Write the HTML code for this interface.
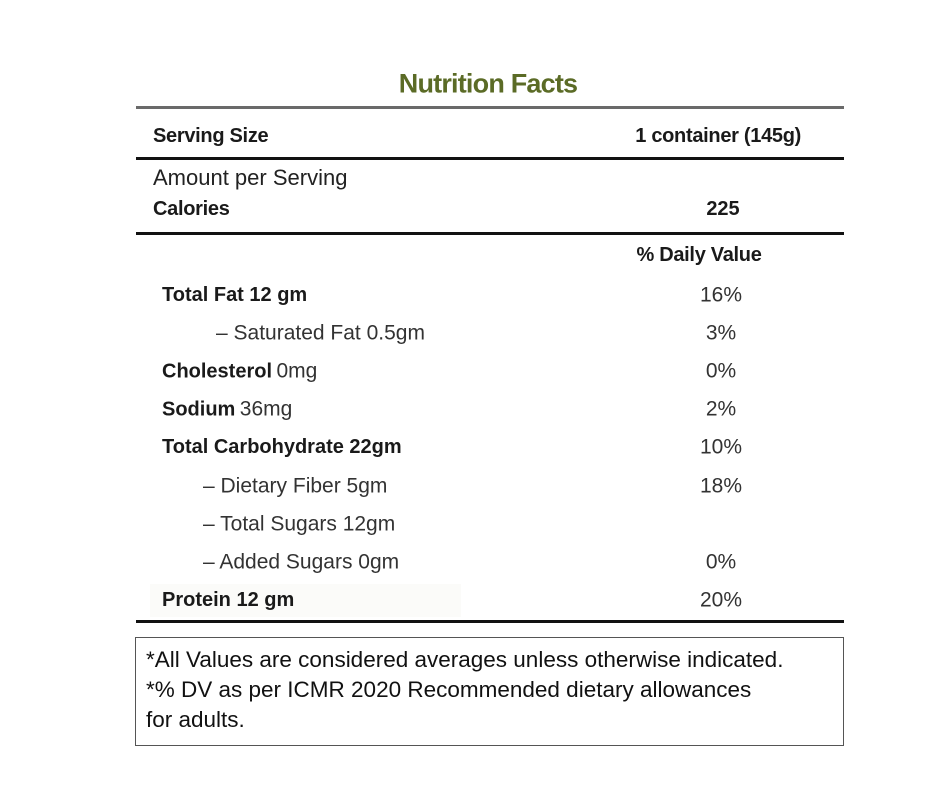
<!DOCTYPE html>
<html><head><meta charset="utf-8"><style>
body{margin:0;width:940px;height:788px;background:#fff;position:relative;font-family:"Liberation Sans",sans-serif;color:#1a1a1a;overflow:hidden}
.t{position:absolute;white-space:nowrap;line-height:1;transform:translateY(-50%)}
.b{font-weight:bold;font-size:20px;letter-spacing:0}
.r{font-size:21px;color:#333}
.c{transform:translate(-50%,-50%)}
.ln{position:absolute;left:136px;width:708px;height:3px;background:#111}
</style></head><body>
<div class="t c" style="left:488px;top:84px;font-size:27px;font-weight:bold;color:#5b6b26;letter-spacing:-0.8px">Nutrition Facts</div>
<div class="ln" style="top:106px;background:#6a6a6a"></div>
<div class="t b" style="left:153px;top:136px;font-size:20px;letter-spacing:-0.3px">Serving Size</div>
<div class="t b" style="right:139px;top:136px;font-size:20px;letter-spacing:-0.3px">1 container (145g)</div>
<div class="ln" style="top:157px"></div>
<div class="t r" style="left:153px;top:178px;font-size:22px;color:#222">Amount per Serving</div>
<div class="t b" style="left:153px;top:209px;letter-spacing:-0.3px">Calories</div>
<div class="t b c" style="left:723px;top:209px">225</div>
<div class="ln" style="top:232px"></div>
<div class="t b c" style="left:699px;top:255px;letter-spacing:-0.3px">% Daily Value</div>

<div class="t b" style="left:162px;top:295px">Total Fat 12 gm</div>
<div class="t r c" style="left:721px;top:295px">16%</div>
<div class="t r" style="left:216px;top:333px">– Saturated Fat 0.5gm</div>
<div class="t r c" style="left:721px;top:333px">3%</div>
<div class="t" style="left:162px;top:371px"><span class="b">Cholesterol</span> <span class="r">0mg</span></div>
<div class="t r c" style="left:721px;top:371px">0%</div>
<div class="t" style="left:162px;top:409px"><span class="b">Sodium</span> <span class="r">36mg</span></div>
<div class="t r c" style="left:721px;top:409px">2%</div>
<div class="t b" style="left:162px;top:447px">Total Carbohydrate 22gm</div>
<div class="t r c" style="left:721px;top:447px">10%</div>
<div class="t r" style="left:203px;top:486px">– Dietary Fiber 5gm</div>
<div class="t r c" style="left:721px;top:486px">18%</div>
<div class="t r" style="left:203px;top:524px">– Total Sugars 12gm</div>
<div class="t r" style="left:203px;top:562px">– Added Sugars 0gm</div>
<div class="t r c" style="left:721px;top:562px">0%</div>
<div style="position:absolute;left:150px;top:584px;width:311px;height:33px;background:#fbfbf9"></div>
<div class="t b" style="left:162px;top:600px">Protein 12 gm</div>
<div class="t r c" style="left:721px;top:600px">20%</div>
<div class="ln" style="top:620px"></div>

<div style="position:absolute;left:135px;top:637px;width:707px;height:107px;border:1px solid #555"></div>
<div class="t" style="left:146px;top:660px;font-size:22.5px;color:#111">*All Values are considered averages unless otherwise indicated.</div>
<div class="t" style="left:146px;top:690px;font-size:22.5px;color:#111">*% DV as per ICMR 2020 Recommended dietary allowances</div>
<div class="t" style="left:146px;top:720px;font-size:22.5px;color:#111">for adults.</div>
</body></html>
